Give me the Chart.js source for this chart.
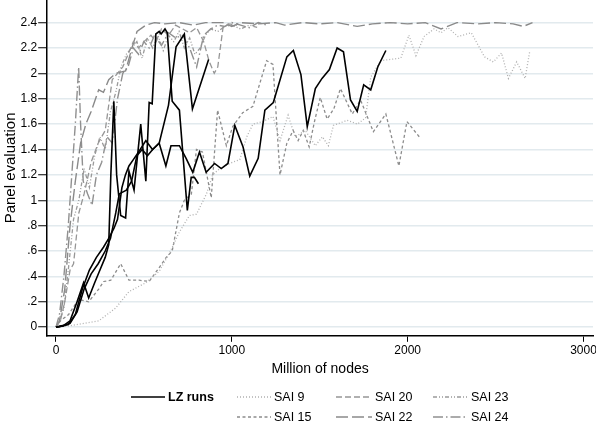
<!DOCTYPE html>
<html><head><meta charset="utf-8">
<script src="https://cdn.jsdelivr.net/npm/chart.js@4.4.0/dist/chart.umd.min.js"></script>
<style>
html,body{margin:0;padding:0;background:#fff;width:596px;height:422px;overflow:hidden;font-family:"Liberation Sans",Arial,sans-serif;}
#wrap{position:absolute;left:0;top:0;width:596px;height:378px;}
#legend{position:absolute;left:0;top:0;width:596px;height:422px;}
.item{position:absolute;display:flex;align-items:center;height:16px;font-size:12.5px;color:#000;white-space:nowrap;}
.item svg{margin-right:3px;}
</style></head>
<body>
<div id="wrap"><canvas id="c" width="596" height="378"></canvas></div>
<div id="legend"></div>
<script>
// ---------- data ----------
const xTickValues = [0, 1000, 2000, 3000];
const xTickLabels = ["0", "1000", "2000", "3000"];
const yTickValues = [0, 0.2, 0.4, 0.6, 0.8, 1, 1.2, 1.4, 1.6, 1.8, 2, 2.2, 2.4];
const yTickLabels = ["0", ".2", ".4", ".6", ".8", "1", "1.2", "1.4", "1.6", "1.8", "2", "2.2", "2.4"];

const lz1X = [0,40,80,120,157,186,220,250,280,300,312,329,345,368,396,415,444,482,511,530,547,568,587,598,620,633,661,702,747,769,787,810];
const lz1Y = [0,0.01,0.05,0.2,0.35,0.23,0.35,0.45,0.55,0.65,1.2,1.78,1.2,0.88,0.86,1.23,1.08,1.6,1.15,1.77,1.76,2.31,2.33,2.31,2.35,2.32,1.78,1.71,0.92,1.18,1.18,1.13];

const lz2X = [0,40,80,120,160,200,240,280,310,340,360,400,430,460,490,520,550,587,640,683,730,776,868];
const lz2Y = [0,0.01,0.03,0.12,0.3,0.42,0.5,0.6,0.7,0.9,1.05,1.08,1.15,1.35,1.4,1.35,1.4,1.45,1.75,2.21,2.31,1.72,2.11];

const lz3X = [0,30,70,110,150,190,230,270,300,330,350,375,395,415,440,470,511,549,587,625,654,702,740,778,816,854,902,940,978,1017,1064,1102,1150,1188,1236,1313,1350,1393,1429,1475,1513,1555,1599,1635,1675,1713,1750,1790,1830,1876];
const lz3Y = [0,0.01,0.02,0.1,0.3,0.45,0.55,0.63,0.7,0.78,0.85,1.1,1.2,1.27,1.32,1.38,1.47,1.4,1.45,1.27,1.43,1.43,1.33,1.22,1.38,1.22,1.29,1.25,1.29,1.59,1.42,1.19,1.33,1.71,1.77,2.13,2.18,1.99,1.58,1.88,1.96,2.03,2.2,2.17,1.79,1.7,1.91,1.87,2.05,2.18];

const sai9X = [0,72,243,339,415,511,587,644,702,759,799,856,891,931,1005,1045,1085,1120,1177,1234,1274,1320,1360,1418,1475,1515,1549,1578,1656,1715,1761,1790,1847,1961,2007,2047,2093,2150,2190,2229,2286,2362,2437,2487,2534,2573,2620,2668,2695];
const sai9Y = [0,0.01,0.05,0.15,0.28,0.35,0.44,0.58,0.75,0.88,0.89,1.05,1.2,1.25,1.3,1.32,1.5,1.6,1.62,1.66,1.47,1.67,1.5,1.55,1.43,1.5,1.43,1.59,1.63,1.6,1.65,1.97,2.1,2.12,2.3,2.14,2.29,2.35,2.32,2.36,2.29,2.32,2.13,2.09,2.16,1.96,2.09,1.96,2.18];

const sai15X = [0,26,72,129,186,243,272,312,368,415,472,530,587,627,661,702,730,770,799,833,883,919,969,1005,1062,1120,1198,1234,1274,1313,1349,1377,1406,1440,1470,1503,1542,1580,1618,1685,1732,1805,1876,1950,1996,2066];
const sai15Y = [0,0.05,0.1,0.22,0.2,0.3,0.36,0.37,0.5,0.37,0.37,0.36,0.47,0.55,0.6,0.9,1.0,1.05,1.4,1.38,1.02,1.71,1.43,1.58,1.69,1.74,2.1,2.07,1.2,1.45,1.55,1.47,1.55,1.42,1.62,1.81,1.64,1.72,1.88,1.68,1.79,1.54,1.68,1.27,1.62,1.5];

const sai20X = [0,25,50,80,100,130,160,200,240,280,320,350,380,410,440,470,500,540,570,600,640,680,720,760,800,840,870,900,920,950,980,1030];
const sai20Y = [0,0.05,0.2,0.45,0.5,0.9,1.05,1.3,1.45,1.55,1.95,2.0,2.05,2.15,2.25,2.2,2.25,2.3,2.25,2.35,2.3,2.38,2.35,2.32,2.36,2.25,2.1,2.0,2.05,2.36,2.39,2.38];

const sai22X = [0,20,50,80,110,140,170,200,243,270,300,339,396,432,461,511,560,620,700,780,850,950,1000,1050,1150,1250,1300,1400,1500,1600,1713,1800,1900,2000,2100,2190,2280,2400,2500,2600,2658,2710];
const sai22Y = [0,0.05,0.3,0.8,1.15,1.45,1.6,1.7,1.87,1.85,1.95,2.0,2.02,2.2,2.33,2.38,2.4,2.39,2.4,2.38,2.4,2.4,2.37,2.4,2.39,2.4,2.38,2.4,2.39,2.4,2.37,2.39,2.4,2.39,2.4,2.35,2.4,2.39,2.4,2.39,2.37,2.4];

const sai23X = [0,20,45,70,100,130,160,190,220,250,280,310,340,370,400,430,460,490,520,550,580,610,640,670,700,730,760,790,820,850,880,920,960,1000,1050,1100,1150];
const sai23Y = [0,0.05,0.15,0.45,0.85,1.0,1.25,1.1,1.35,1.5,1.4,1.7,1.85,2.05,2.15,2.2,2.25,2.12,2.28,2.2,2.3,2.18,2.3,2.25,2.33,2.2,2.28,2.15,2.2,2.3,2.35,2.33,2.37,2.38,2.35,2.38,2.36];

const sai24X = [0,20,45,70,90,110,129,140,155,180,205,230,260,290,320,350,380,410,440,470,500,530,560,600,640,680,720,760,800,840,880,920,960,1000,1050,1100,1150,1200];
const sai24Y = [0,0.1,0.4,0.8,1.2,1.6,2.05,1.6,1.15,1.05,0.96,1.2,1.3,1.5,1.45,1.8,2.0,2.05,2.2,2.15,2.25,2.2,2.3,2.22,2.32,2.28,2.3,2.2,2.05,2.3,2.35,2.38,2.37,2.4,2.38,2.36,2.4,2.38];

// ---------- build ----------
const FONT = '"Liberation Sans", Arial, sans-serif';
function pts(xs, ys){ return xs.map((x,i)=>({x:x, y:ys[i]})); }
function ds(label, xs, ys, st){
  return {label, data: pts(xs,ys), borderColor: st.color, borderWidth: st.width, borderDash: st.dash,
          pointRadius: 0, tension: 0, fill: false, borderCapStyle:'butt', borderJoinStyle:'miter'};
}
const styles = {
  lz:    {color:'#000000', width:1.6, dash:[]},
  sai9:  {color:'#b0b0b0', width:1.3, dash:[1,2]},
  sai15: {color:'#8c8c8c', width:1.3, dash:[3,2.5]},
  sai20: {color:'#969696', width:1.3, dash:[6,3]},
  sai22: {color:'#8a8a8a', width:1.4, dash:[12,4]},
  sai23: {color:'#9a9a9a', width:1.3, dash:[4,2,1,2,1,2]},
  sai24: {color:'#909090', width:1.4, dash:[10,3,1.5,3]}
};
const datasets = [
  ds('LZ runs', lz1X, lz1Y, styles.lz),
  ds('LZ runs', lz2X, lz2Y, styles.lz),
  ds('LZ runs', lz3X, lz3Y, styles.lz),
  ds('SAI 9', sai9X, sai9Y, styles.sai9),
  ds('SAI 15', sai15X, sai15Y, styles.sai15),
  ds('SAI 20', sai20X, sai20Y, styles.sai20),
  ds('SAI 22', sai22X, sai22Y, styles.sai22),
  ds('SAI 23', sai23X, sai23Y, styles.sai23),
  ds('SAI 24', sai24X, sai24Y, styles.sai24)
];

new Chart(document.getElementById('c'), {
  type: 'line',
  data: { datasets },
  options: {
    responsive: false,
    animation: false,
    devicePixelRatio: 1,
    layout: { padding: { left: 1.5, right: 3, top: 0, bottom: 0 } },
    plugins: { legend: { display: false }, tooltip: { enabled: false } },
    scales: {
      x: {
        type: 'linear', min: -50, max: 3054,
        afterBuildTicks: s => { s.ticks = xTickValues.map(v => ({value: v})); },
        afterFit: s => { s.paddingLeft = 0; s.paddingRight = 0; },
        grid: { drawOnChartArea: false, drawTicks: true, tickLength: 6, tickColor: '#000', tickWidth: 1 },
        border: { display: true, color: '#000', width: 1.5 },
        ticks: { color: '#000', font: { family: FONT, size: 12 }, padding: 2, maxRotation: 0, autoSkip: false,
                 callback: (v) => { const i = xTickValues.indexOf(v); return i >= 0 ? xTickLabels[i] : ''; } },
        title: { display: true, text: 'Million of nodes', color: '#000', font: { family: FONT, size: 14 }, padding: { top: 1, bottom: 0 } }
      },
      y: {
        type: 'linear', min: -0.068, max: 2.578,
        afterBuildTicks: s => { s.ticks = yTickValues.map(v => ({value: v})); },
        afterFit: s => { s.paddingTop = 0; s.paddingBottom = 0; },
        grid: { color: '#e2eaee', lineWidth: 1.5, drawTicks: true, tickLength: 9, tickColor: '#000', tickWidth: 1 },
        border: { display: true, color: '#000', width: 1.5 },
        ticks: { color: '#000', font: { family: FONT, size: 12 }, padding: 1, autoSkip: false,
                 callback: (v) => { const i = yTickValues.indexOf(v); return i >= 0 ? yTickLabels[i] : ''; } },
        title: { display: true, text: 'Panel evaluation', color: '#000', font: { family: FONT, size: 15 }, padding: { top: 0, bottom: 0 } }
      }
    }
  }
});

// ---------- HTML legend (real text) ----------
const legendItems = [
  {label:'LZ runs', key:'lz', left:131, row:0, len:34, bold:true},
  {label:'SAI 9',  key:'sai9', left:237, row:0, len:34},
  {label:'SAI 20', key:'sai20', left:336, row:0, len:36},
  {label:'SAI 23', key:'sai23', left:433, row:0, len:35},
  {label:'SAI 15', key:'sai15', left:237, row:1, len:34},
  {label:'SAI 22', key:'sai22', left:336, row:1, len:36},
  {label:'SAI 24', key:'sai24', left:433, row:1, len:35}
];
const rowCenters = [396.5, 416.5];
const lg = document.getElementById('legend');
legendItems.forEach(it => {
  const st = styles[it.key];
  const d = document.createElement('div');
  d.className = 'item';
  d.style.left = it.left + 'px';
  d.style.top = (rowCenters[it.row] - 8) + 'px';
  const dash = st.dash.length ? ` stroke-dasharray="${st.dash.join(' ')}"` : '';
  d.innerHTML = `<svg width="${it.len}" height="16"><line x1="0" y1="8" x2="${it.len}" y2="8" stroke="${st.color}" stroke-width="${st.width}"${dash}/></svg><span style="${it.bold?'font-weight:bold;':''}">${it.label}</span>`;
  lg.appendChild(d);
});
</script>
</body></html>
